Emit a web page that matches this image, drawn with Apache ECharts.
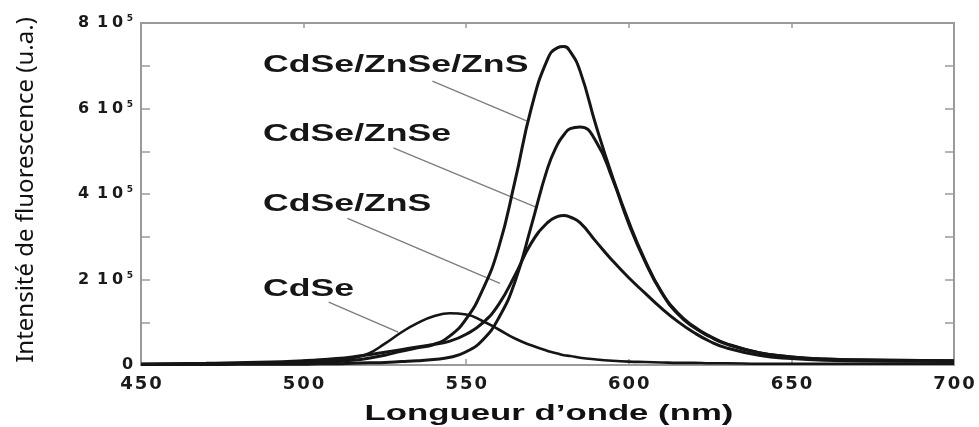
<!DOCTYPE html>
<html>
<head>
<meta charset="utf-8">
<script src="https://cdn.jsdelivr.net/npm/echarts@6/dist/echarts.min.js"></script>
<style>
  html, body { margin: 0; padding: 0; background: #fff; }
  #chart { width: 979px; height: 427px; }
</style>
</head>
<body>
<div id="chart"></div>
<script>
// Emission spectra of CdSe core and core/shell quantum dots.
// Intensities are in units of 10^5 (a.u.), wavelengths in nm.
const wavelengths = [450, 470, 490, 500, 505, 510, 515, 520, 525, 530, 535, 540, 545, 550, 555, 560, 565, 570, 575, 578, 580, 582, 585, 590, 595, 600, 605, 610, 615, 620, 625, 630, 640, 650, 660, 680, 700];

const cdseZnseZns = [0.02, 0.03, 0.04, 0.05, 0.06, 0.08, 0.11, 0.16, 0.23, 0.32, 0.40, 0.48, 0.68, 1.08, 1.75, 2.75, 4.30, 6.00, 7.15, 7.42, 7.45, 7.33, 6.88, 5.58, 4.40, 3.35, 2.45, 1.72, 1.22, 0.90, 0.67, 0.50, 0.29, 0.19, 0.14, 0.11, 0.10];
const cdseZnse    = [0.01, 0.01, 0.02, 0.02, 0.03, 0.03, 0.04, 0.05, 0.06, 0.08, 0.10, 0.13, 0.18, 0.31, 0.58, 1.10, 1.95, 3.25, 4.60, 5.15, 5.38, 5.53, 5.57, 5.22, 4.35, 3.30, 2.42, 1.70, 1.20, 0.88, 0.66, 0.49, 0.29, 0.19, 0.14, 0.11, 0.10];
const cdseZns     = [0.02, 0.04, 0.07, 0.10, 0.12, 0.15, 0.19, 0.24, 0.30, 0.36, 0.42, 0.48, 0.56, 0.72, 0.98, 1.42, 2.10, 2.85, 3.33, 3.47, 3.50, 3.46, 3.33, 2.88, 2.44, 2.04, 1.68, 1.33, 1.02, 0.76, 0.55, 0.40, 0.23, 0.15, 0.11, 0.09, 0.08];
const cdse        = [0.02, 0.03, 0.05, 0.07, 0.09, 0.11, 0.16, 0.27, 0.50, 0.76, 0.98, 1.14, 1.21, 1.18, 1.03, 0.83, 0.62, 0.46, 0.33, 0.27, 0.23, 0.21, 0.17, 0.13, 0.10, 0.08, 0.07, 0.06, 0.05, 0.05, 0.04, 0.04, 0.03, 0.03, 0.03, 0.03, 0.03];

const xTicks = [450, 500, 550, 600, 650, 700];
const yTicks = [0, 2, 4, 6, 8];          // x 10^5
const yExponent = '5';

const seriesNames = ['CdSe/ZnSe/ZnS', 'CdSe/ZnSe', 'CdSe/ZnS', 'CdSe'];
const seriesValues = [cdseZnseZns, cdseZnse, cdseZns, cdse];

// Leader lines from each name to its curve, in data coordinates.
const leaderStart = [[539.6, 6.64], [527.6, 5.08], [513.5, 3.43], [507.7, 1.47]];
const leaderEnd   = [[568.6, 5.71], [571.8, 3.68], [560.4, 1.91], [529.1, 0.77]];

const chart = echarts.init(document.getElementById('chart'), null, { renderer: 'canvas' });

const frameColor = '#9a9a9a';
const inkColor = '#151515';
const tickFont = 'DejaVu Sans';

function spacedDigits(str, style) {
  return str.split('').map(c => c === ' ' ? '{sp| }' : '{' + style + '|' + c + '}').join('');
}

const xStep = xTicks[1] - xTicks[0];
const yStep = yTicks[1] - yTicks[0];

const curveSeries = seriesNames.map((name, k) => ({
  name: name,
  type: 'line',
  xAxisIndex: 0,
  yAxisIndex: 0,
  data: wavelengths.map((w, i) => [w, seriesValues[k][i]]),
  smooth: 0.5,
  showSymbol: false,
  symbol: 'none',
  silent: true,
  z: 5,
  lineStyle: { color: inkColor, width: k === 3 ? 2.6 : 3 }
}));

const leaderSeries = leaderStart.map((p, k) => ({
  type: 'line',
  xAxisIndex: 0,
  yAxisIndex: 0,
  data: [p, leaderEnd[k]],
  showSymbol: false,
  symbol: 'none',
  silent: true,
  z: 3,
  lineStyle: { color: '#7d7d7d', width: 1.3 }
}));

const labelY = [66, 135, 205, 290];

const option = {
  backgroundColor: '#ffffff',
  animation: false,
  grid: { left: 141, right: 25, top: 23, bottom: 62, show: false },
  xAxis: [
    {
      type: 'value', position: 'bottom',
      min: xTicks[0], max: xTicks[xTicks.length - 1], interval: xStep,
      axisLine: { show: true, onZero: false, lineStyle: { color: frameColor, width: 2 } },
      axisTick: { show: true, inside: true, length: 6, lineStyle: { color: frameColor, width: 1.5 } },
      splitLine: { show: false },
      axisLabel: {
        show: true, margin: 10,
        formatter: v => spacedDigits(String(v), 'd'),
        rich: {
          d: { width: 14.5, align: 'center', fontFamily: tickFont, fontWeight: 'bold', fontSize: 18, color: '#1a1a1a' },
          sp: { width: 5, fontSize: 18 }
        }
      }
    },
    {
      type: 'value', position: 'top',
      min: xTicks[0], max: xTicks[xTicks.length - 1], interval: xStep,
      axisLine: { show: true, onZero: false, lineStyle: { color: frameColor, width: 2 } },
      axisTick: { show: true, inside: true, length: 5, lineStyle: { color: frameColor, width: 1.5 } },
      splitLine: { show: false },
      axisLabel: { show: false }
    }
  ],
  yAxis: [
    {
      type: 'value', position: 'left',
      min: yTicks[0], max: yTicks[yTicks.length - 1], interval: yStep,
      axisLine: { show: true, onZero: false, lineStyle: { color: frameColor, width: 2 } },
      axisTick: { show: true, inside: true, length: 9, lineStyle: { color: frameColor, width: 1.5 } },
      minorTick: { show: true, splitNumber: 2, length: 9, lineStyle: { color: frameColor, width: 1.5 } },
      splitLine: { show: false },
      axisLabel: {
        show: true, margin: 6,
        formatter: v => v === 0 ? '{d|0}' : spacedDigits(v + ' 10', 'd') + '{s|' + yExponent + '}',
        rich: {
          d: { width: 15, align: 'center', fontFamily: tickFont, fontWeight: 'bold', fontSize: 16, color: '#1a1a1a' },
          sp: { width: 4, fontSize: 16 },
          s: { width: 10, align: 'center', fontFamily: tickFont, fontWeight: 'bold', fontSize: 9, color: '#1a1a1a', verticalAlign: 'top', padding: [0, 0, 8, 0] }
        }
      }
    },
    {
      type: 'value', position: 'right',
      min: yTicks[0], max: yTicks[yTicks.length - 1], interval: yStep,
      axisLine: { show: true, onZero: false, lineStyle: { color: frameColor, width: 2 } },
      axisTick: { show: true, inside: true, length: 9, lineStyle: { color: frameColor, width: 1.5 } },
      minorTick: { show: true, splitNumber: 2, length: 9, lineStyle: { color: frameColor, width: 1.5 } },
      splitLine: { show: false },
      axisLabel: { show: false }
    }
  ],
  series: leaderSeries.concat(curveSeries),
  graphic: [
    {
      type: 'text', x: 549, y: 414, scaleX: 1.58,
      style: {
        text: 'Longueur d’onde (nm)', fill: '#111',
        font: 'bold 22px "Liberation Sans", Arial, sans-serif',
        textAlign: 'center', textVerticalAlign: 'middle'
      }
    },
    {
      type: 'text', x: 26, y: 190, rotation: Math.PI / 2, scaleX: 1.0,
      style: {
        text: 'Intensité de fluorescence (u.a.)', fill: '#111',
        font: '24px "Noto Sans", sans-serif',
        textAlign: 'center', textVerticalAlign: 'middle'
      }
    }
  ].concat(seriesNames.map((name, k) => ({
    type: 'text', x: 263, y: labelY[k], scaleX: 1.55,
    style: {
      text: name, fill: '#161616',
      font: 'bold 23px "Liberation Sans", Arial, sans-serif',
      textAlign: 'left', textVerticalAlign: 'middle'
    }
  })))
};

chart.setOption(option);
</script>
</body>
</html>
